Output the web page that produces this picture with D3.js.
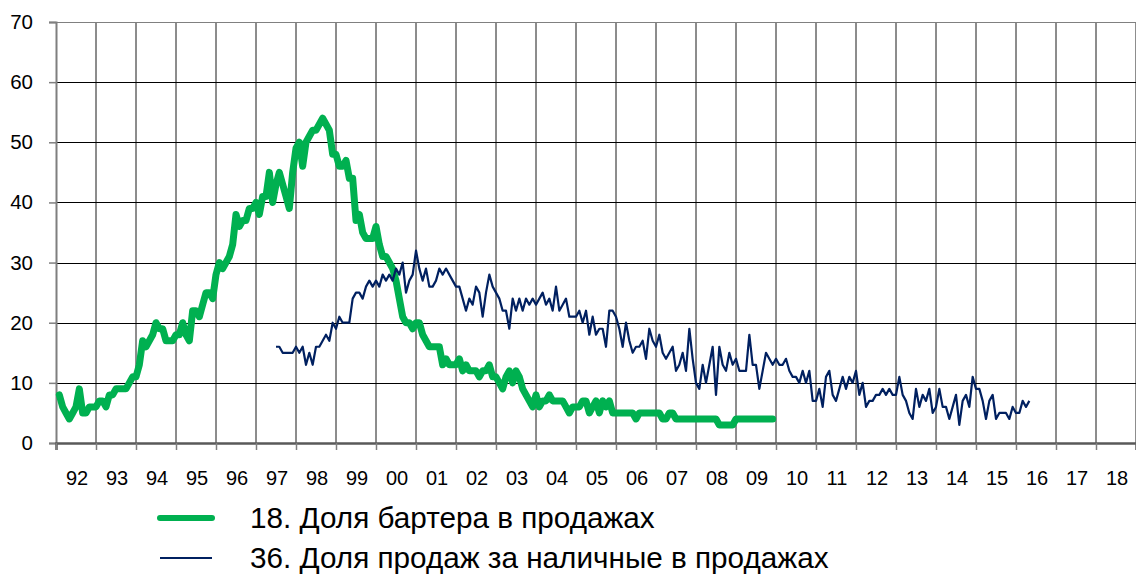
<!DOCTYPE html>
<html lang="ru">
<head>
<meta charset="UTF-8">
<title>Доля бартера и наличных в продажах</title>
<script src="https://d3js.org/d3.v7.min.js"></script>
<style>
    body { margin: 0; background: #fff; }
    text { font-family: "Liberation Sans", Arial, sans-serif; fill: #000; }
</style>
</head>
<body>
<script>
    var yearLabels = ["92", "93", "94", "95", "96", "97", "98", "99", "00", "01", "02", "03", "04",
        "05", "06", "07", "08", "09", "10", "11", "12", "13", "14", "15", "16", "17", "18"];
    var yTicks = [0, 10, 20, 30, 40, 50, 60, 70];
    var seriesNames = ["18. Доля бартера в продажах", "36. Доля продаж за наличные в продажах"];

    // monthly, first value Feb 1992
    var barterStart = 1992 + 1 / 12;
    var barter = [
        8, 6, 5, 4, 5, 6, 9, 5, 5, 6, 6, 6,
        7, 7, 6, 8, 8, 9, 9, 9, 9, 10, 11, 11,
        13, 17, 16, 17, 18, 20, 19, 19, 17, 17, 17, 18,
        18, 20, 18, 17, 22, 22, 21, 23, 25, 25, 24, 28,
        30, 29, 30, 31, 33, 38, 36, 37, 37, 39, 39, 40,
        38, 41, 41, 45, 40, 43, 45, 43, 41, 39, 45, 49,
        50, 46, 50, 51, 52, 52, 53, 54, 53, 52, 48, 48,
        46, 46, 47, 44, 44, 37, 38, 35, 34, 34, 34, 36,
        33, 31, 31, 30, 29, 27, 24, 21, 20, 20, 19, 20,
        20, 18, 17, 16, 16, 16, 16, 13, 14, 13, 13, 13,
        14, 12, 13, 12, 12, 12, 11, 12, 12, 13, 11, 11,
        10, 9, 11, 12, 10, 12, 11, 9, 8, 7, 6, 8,
        6, 7, 7, 8, 7, 7, 7, 7, 6, 5, 6, 6,
        6, 7, 7, 5, 6, 7, 5, 7, 6, 7, 5, 5,
        5, 5, 5, 5, 5, 4, 5, 5, 5, 5, 5, 5,
        5, 4, 4, 5, 5, 4, 4, 4, 4, 4, 4, 4,
        4, 4, 4, 4, 4, 4, 3, 3, 3, 3, 3, 4,
        4, 4, 4, 4, 4, 4, 4, 4, 4, 4, 4
    ];

    // monthly, first value Jul 1997
    var cashStart = 1997.5;
    var cash = [
        16, 16, 15, 15, 15, 15,
        16, 15, 16, 13, 15, 13, 16, 16, 17, 18, 17, 20,
        19, 21, 20, 20, 20, 24, 25, 25, 24, 26, 27, 26,
        27, 26, 28, 27, 28, 27, 29, 28, 30, 25, 27, 28,
        32, 29, 27, 29, 26, 26, 27, 29, 28, 29, 28, 27,
        26, 26, 24, 22, 24, 23, 26, 25, 21, 25, 28, 26,
        25, 24, 22, 22, 19, 24, 22, 24, 22, 24, 23, 24,
        23, 24, 25, 23, 24, 22, 26, 22, 23, 24, 21, 21,
        21, 22, 20, 22, 18, 21, 18, 19, 19, 16, 22, 22,
        21, 19, 16, 20, 17, 15, 16, 16, 17, 14, 19, 17,
        16, 18, 15, 14, 15, 16, 12, 13, 15, 12, 19, 14,
        10, 9, 13, 10, 13, 16, 8, 16, 13, 12, 15, 13,
        14, 12, 12, 12, 18, 13, 13, 9, 12, 15, 14, 13,
        14, 13, 13, 14, 12, 11, 11, 10, 12, 10, 12, 7,
        7, 9, 6, 11, 12, 8, 7, 9, 11, 9, 11, 10,
        12, 8, 10, 6, 7, 7, 8, 8, 9, 8, 9, 8,
        8, 11, 8, 7, 5, 4, 9, 6, 8, 7, 9, 5,
        6, 9, 6, 6, 4, 6, 8, 3, 7, 8, 6, 11,
        9, 9, 7, 4, 7, 8, 4, 5, 5, 5, 4, 6,
        5, 5, 7, 6, 7
    ];

    var width = 1136, height = 574;
    var svg = d3.select("body").append("svg")
        .attr("width", width)
        .attr("height", height);

    var x = d3.scaleLinear().domain([1992, 2019]).range([56, 1136]);
    var y = d3.scaleLinear().domain([0, 70]).range([443, 22]);
    var years = d3.range(1992, 2020);

    // grid
    svg.append("g").selectAll("line")
        .data(years.slice(1))
        .enter().append("line")
        .attr("x1", function (d) { return x(d); })
        .attr("x2", function (d) { return x(d); })
        .attr("y1", y(70))
        .attr("y2", y(0))
        .attr("stroke", "#1a1a1a")
        .attr("stroke-width", 1);

    svg.append("g").selectAll("line")
        .data(yTicks.slice(1))
        .enter().append("line")
        .attr("x1", x(1992))
        .attr("x2", x(2019))
        .attr("y1", function (d) { return Math.round(y(d)) + 0.5; })
        .attr("y2", function (d) { return Math.round(y(d)) + 0.5; })
        .attr("stroke", function (d) { return d === 70 ? "#808080" : "#000"; })
        .attr("stroke-width", 1);

    // y axis
    var yAxis = d3.axisLeft(y).tickValues(yTicks).tickSize(7).tickPadding(16);
    var gy = svg.append("g").attr("transform", "translate(56,0)").call(yAxis);
    gy.select(".domain").attr("stroke", "#7f7f7f").attr("stroke-width", 2);
    gy.selectAll(".tick line").attr("stroke", "#7f7f7f").attr("stroke-width", 1.5);
    gy.selectAll(".tick text").style("font-size", "20.5px").attr("fill", "#000");

    // x axis
    var xAxis = d3.axisBottom(x).tickValues(years).tickSize(7).tickFormat("");
    var gx = svg.append("g").attr("transform", "translate(0," + y(0) + ")").call(xAxis);
    gx.select(".domain").attr("stroke", "#595959").attr("stroke-width", 2.5);
    gx.selectAll(".tick line").attr("stroke", "#7f7f7f").attr("stroke-width", 1.5);

    svg.append("g").selectAll("text")
        .data(yearLabels)
        .enter().append("text")
        .attr("x", function (d, i) { return x(1992 + i + 0.5) + 1; })
        .attr("y", 485)
        .attr("text-anchor", "middle")
        .style("font-size", "20px")
        .text(function (d) { return d; });

    // series
    var line = d3.line()
        .x(function (d) { return x(d.t); })
        .y(function (d) { return y(d.v); });

    var barterPts = barter.map(function (v, i) { return { t: barterStart + i / 12, v: v }; });
    var cashPts = cash.map(function (v, i) { return { t: cashStart + i / 12, v: v }; });

    svg.append("path")
        .datum(barterPts)
        .attr("d", line)
        .attr("fill", "none")
        .attr("stroke", "#00b050")
        .attr("stroke-width", 7)
        .attr("stroke-linejoin", "round")
        .attr("stroke-linecap", "round");

    svg.append("path")
        .datum(cashPts)
        .attr("d", line)
        .attr("fill", "none")
        .attr("stroke", "#002060")
        .attr("stroke-width", 2.2)
        .attr("stroke-linejoin", "round");

    // legend
    var legend = svg.append("g");
    var legendStyle = [
        { color: "#00b050", w: 6, cap: "round" },
        { color: "#002060", w: 2.2, cap: "butt" }
    ];
    seriesNames.forEach(function (name, i) {
        var ly = 518 + i * 40;
        legend.append("line")
            .attr("x1", 160).attr("x2", 212)
            .attr("y1", ly).attr("y2", ly)
            .attr("stroke", legendStyle[i].color)
            .attr("stroke-width", legendStyle[i].w)
            .attr("stroke-linecap", legendStyle[i].cap);
        legend.append("text")
            .attr("x", 250)
            .attr("y", ly)
            .attr("dy", "0.35em")
            .style("font-size", "29.7px")
            .text(name);
    });
</script>
</body>
</html>
